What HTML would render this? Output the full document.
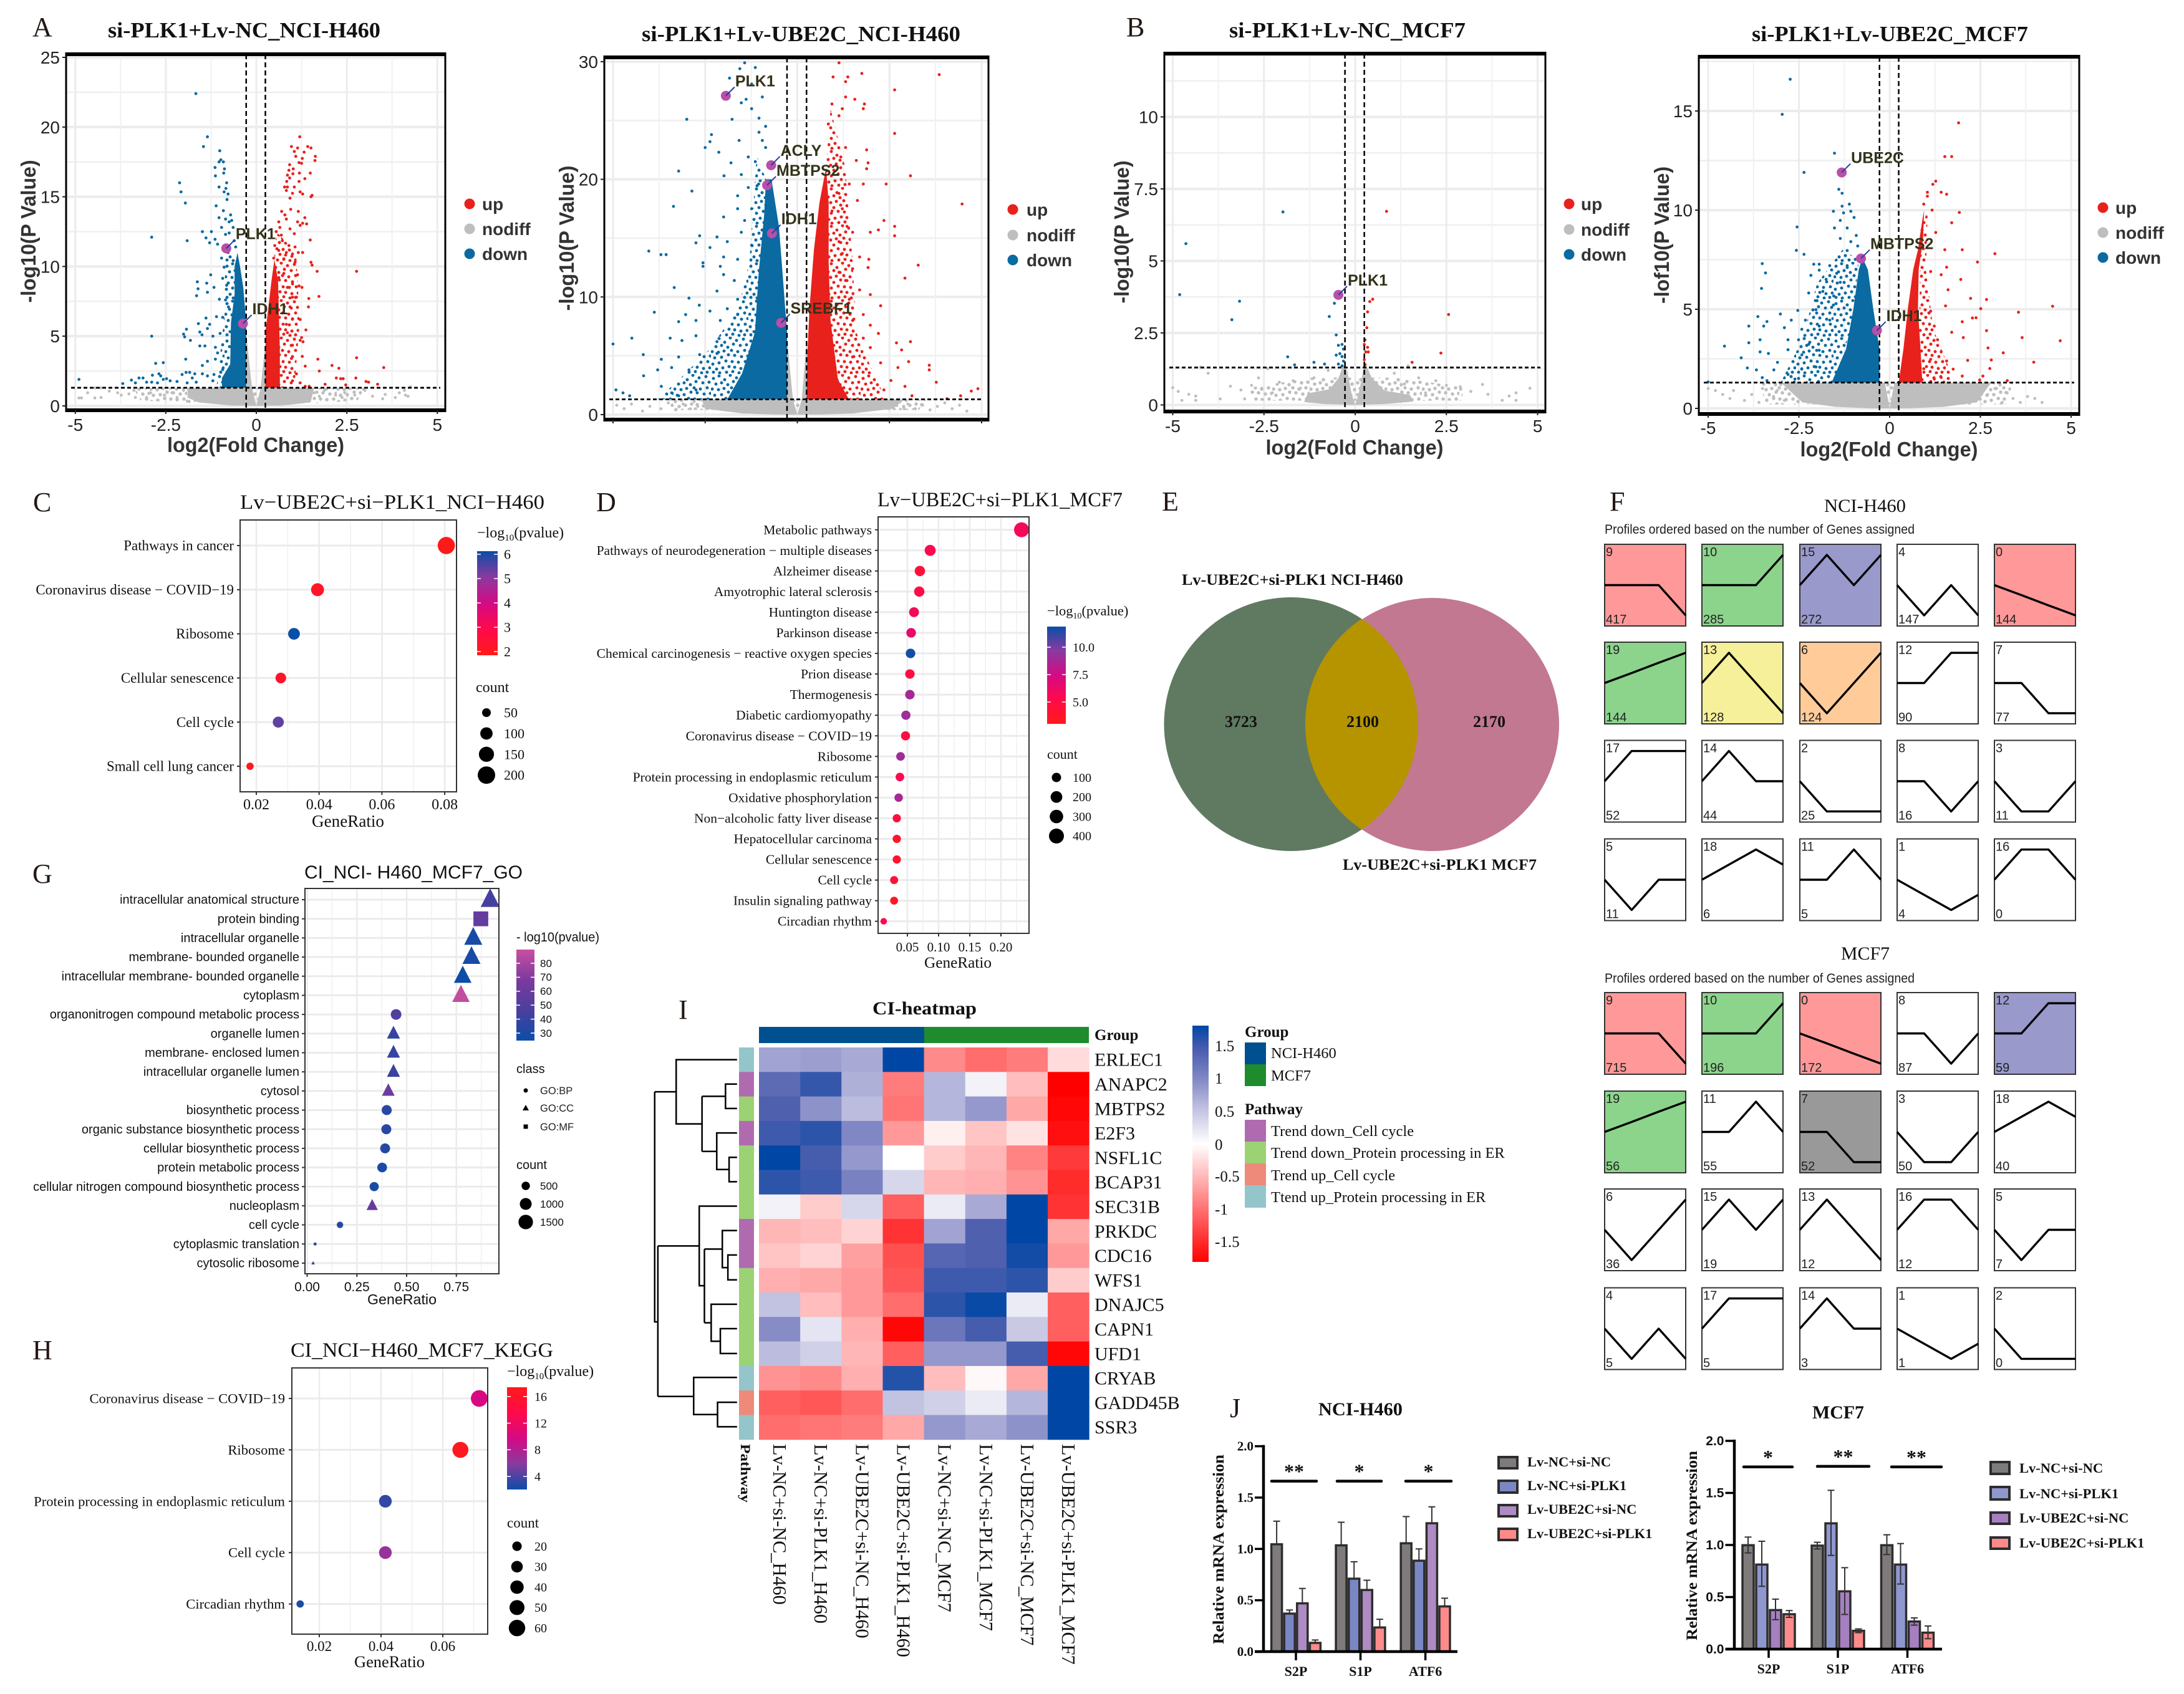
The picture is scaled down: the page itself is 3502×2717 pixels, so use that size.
<!DOCTYPE html>
<html lang="en">
<head>
<meta charset="utf-8">
<title>Multi-panel transcriptomics figure</title>
<style>
html,body{margin:0;padding:0;background:#fff}
svg{display:block}
.se{font-family:"Liberation Serif",serif}
.sa{font-family:"Liberation Sans",sans-serif}
.b{font-weight:bold}
.m{text-anchor:middle}
.e{text-anchor:end}
</style>
</head>
<body>
<svg id="fig" xmlns="http://www.w3.org/2000/svg" width="3502" height="2717" viewBox="0 0 3502 2717">
<defs>
<pattern id="sp-down" width="60" height="60" patternUnits="userSpaceOnUse"><path d="M4 7h0M13 3h0M22 9h0M31 2h0M41 6h0M52 4h0M57 13h0M47 14h0M36 12h0M27 17h0M17 14h0M8 16h0M2 24h0M12 25h0M21 23h0M33 22h0M43 24h0M54 22h0M59 31h0M49 32h0M38 30h0M28 29h0M17 33h0M6 34h0M3 44h0M13 42h0M24 39h0M34 40h0M44 41h0M55 40h0M58 50h0M48 51h0M38 49h0M29 48h0M19 50h0M9 52h0M14 58h0M25 57h0M35 56h0M45 58h0M54 57h0M4 57h0" stroke="#0a6aa1" stroke-width="5" stroke-linecap="round"/></pattern>
<pattern id="sp-up" width="60" height="60" patternUnits="userSpaceOnUse"><path d="M4 7h0M13 3h0M22 9h0M31 2h0M41 6h0M52 4h0M57 13h0M47 14h0M36 12h0M27 17h0M17 14h0M8 16h0M2 24h0M12 25h0M21 23h0M33 22h0M43 24h0M54 22h0M59 31h0M49 32h0M38 30h0M28 29h0M17 33h0M6 34h0M3 44h0M13 42h0M24 39h0M34 40h0M44 41h0M55 40h0M58 50h0M48 51h0M38 49h0M29 48h0M19 50h0M9 52h0M14 58h0M25 57h0M35 56h0M45 58h0M54 57h0M4 57h0" stroke="#e8211d" stroke-width="5" stroke-linecap="round"/></pattern>
<pattern id="sp-gray" width="60" height="60" patternUnits="userSpaceOnUse"><path d="M4 7h0M13 3h0M22 9h0M31 2h0M41 6h0M52 4h0M57 13h0M47 14h0M36 12h0M27 17h0M17 14h0M8 16h0M2 24h0M12 25h0M21 23h0M33 22h0M43 24h0M54 22h0M59 31h0M49 32h0M38 30h0M28 29h0M17 33h0M6 34h0M3 44h0M13 42h0M24 39h0M34 40h0M44 41h0M55 40h0M58 50h0M48 51h0M38 49h0M29 48h0M19 50h0M9 52h0M14 58h0M25 57h0M35 56h0M45 58h0M54 57h0M4 57h0" stroke="#bebebe" stroke-width="5.5" stroke-linecap="round"/></pattern>
<linearGradient id="grad-rb" x1="0" y1="1" x2="0" y2="0"><stop offset="0" stop-color="#ff1a1a"/><stop offset=".25" stop-color="#ff0a4a"/><stop offset=".5" stop-color="#d40a85"/><stop offset=".75" stop-color="#8a3a9e"/><stop offset="1" stop-color="#0a4ea8"/></linearGradient>
<linearGradient id="grad-br" x1="0" y1="0" x2="0" y2="1"><stop offset="0" stop-color="#ff1a1a"/><stop offset=".25" stop-color="#ff0a4a"/><stop offset=".5" stop-color="#d40a85"/><stop offset=".75" stop-color="#8a3a9e"/><stop offset="1" stop-color="#0a4ea8"/></linearGradient>
<linearGradient id="grad-go" x1="0" y1="1" x2="0" y2="0"><stop offset="0" stop-color="#0a4ea8"/><stop offset=".33" stop-color="#4a3f9e"/><stop offset=".66" stop-color="#7a3a9e"/><stop offset="1" stop-color="#c94fa0"/></linearGradient>
<linearGradient id="grad-heat" x1="0" y1="0" x2="0" y2="1"><stop offset="0" stop-color="#0047a5"/><stop offset=".1" stop-color="#4a5cae"/><stop offset=".225" stop-color="#8088c4"/><stop offset=".35" stop-color="#c0c0e0"/><stop offset=".5" stop-color="#ffffff"/><stop offset="1" stop-color="#ff0000"/></linearGradient>
</defs>

<!-- panel letters -->
<g class="se" font-size="44" fill="#231815">
<text x="52" y="58">A</text>
<text x="1806" y="58">B</text>
<text x="53" y="820">C</text>
<text x="956" y="820">D</text>
<text x="1863" y="819">E</text>
<text x="2581" y="819">F</text>
<text x="52" y="1416">G</text>
<text x="52" y="2180">H</text>
<text x="1088" y="1634">I</text>
<text x="1972" y="2273">J</text>
</g>

<!-- volcano static text -->
<g class="se b" font-size="35" fill="#111">
<text x="173" y="60" textLength="437" lengthAdjust="spacingAndGlyphs">si-PLK1+Lv-NC_NCI-H460</text>
<text x="1029" y="66" textLength="511" lengthAdjust="spacingAndGlyphs">si-PLK1+Lv-UBE2C_NCI-H460</text>
<text x="1971" y="60" textLength="379" lengthAdjust="spacingAndGlyphs">si-PLK1+Lv-NC_MCF7</text>
<text x="2809" y="66" textLength="443" lengthAdjust="spacingAndGlyphs">si-PLK1+Lv-UBE2C_MCF7</text>
</g>
<g class="sa b m" font-size="33" fill="#333">
<text transform="rotate(-90 57 371)" x="57" y="371" textLength="229" lengthAdjust="spacingAndGlyphs">-log10(P Value)</text>
<text transform="rotate(-90 920 382)" x="920" y="382" textLength="233" lengthAdjust="spacingAndGlyphs">-log10(P Value)</text>
<text transform="rotate(-90 1810 372)" x="1810" y="372" textLength="229" lengthAdjust="spacingAndGlyphs">-log10(P Value)</text>
<text transform="rotate(-90 2676 377)" x="2676" y="377" textLength="220" lengthAdjust="spacingAndGlyphs">-lof10(P Value)</text>
<text x="410" y="725" textLength="284" lengthAdjust="spacingAndGlyphs">log2(Fold Change)</text>
<text x="2172" y="729" textLength="285" lengthAdjust="spacingAndGlyphs">log2(Fold Change)</text>
<text x="3029" y="732" textLength="285" lengthAdjust="spacingAndGlyphs">log2(Fold Change)</text>
</g>
<g>
<g class="sa b" font-size="28" fill="#333">
<circle cx="753" cy="327" r="8.5" fill="#e8211d"/><text x="773" y="337">up</text>
<circle cx="753" cy="367" r="8.5" fill="#bebebe"/><text x="773" y="377">nodiff</text>
<circle cx="753" cy="407" r="8.5" fill="#0a6aa1"/><text x="773" y="417">down</text>
<circle cx="1624" cy="336" r="8.5" fill="#e8211d"/><text x="1646" y="346">up</text>
<circle cx="1624" cy="377" r="8.5" fill="#bebebe"/><text x="1646" y="387">nodiff</text>
<circle cx="1624" cy="417" r="8.5" fill="#0a6aa1"/><text x="1646" y="427">down</text>
<circle cx="2516" cy="327" r="8.5" fill="#e8211d"/><text x="2535" y="337">up</text>
<circle cx="2516" cy="368" r="8.5" fill="#bebebe"/><text x="2535" y="378">nodiff</text>
<circle cx="2516" cy="408" r="8.5" fill="#0a6aa1"/><text x="2535" y="418">down</text>
<circle cx="3372" cy="333" r="8.5" fill="#e8211d"/><text x="3392" y="343">up</text>
<circle cx="3372" cy="373" r="8.5" fill="#bebebe"/><text x="3392" y="383">nodiff</text>
<circle cx="3372" cy="413" r="8.5" fill="#0a6aa1"/><text x="3392" y="423">down</text>
</g></g>

<g id="v-a1"></g>
<g id="v-a2"></g>
<g id="v-b1"></g>
<g id="v-b2"></g>

<!-- panel C static -->
<text class="se" x="385" y="816" font-size="33" textLength="488" lengthAdjust="spacingAndGlyphs" fill="#111">Lv−UBE2C+si−PLK1_NCI−H460</text>
<text class="se" x="500" y="1326" font-size="27" textLength="116" lengthAdjust="spacingAndGlyphs" fill="#111">GeneRatio</text>
<text class="se" x="765" y="862" font-size="24" fill="#111">−log<tspan font-size="15" dy="5">10</tspan><tspan dy="-5">(pvalue)</tspan></text>
<text class="se" x="763" y="1110" font-size="24" fill="#111">count</text>
<rect x="765" y="884" width="33" height="167" fill="url(#grad-rb)"/>
<g id="dp-c"></g>

<!-- panel D static -->
<text class="se" x="1407" y="812" font-size="33" textLength="393" lengthAdjust="spacingAndGlyphs" fill="#111">Lv−UBE2C+si−PLK1_MCF7</text>
<text class="se" x="1482" y="1552" font-size="25" textLength="108" lengthAdjust="spacingAndGlyphs" fill="#111">GeneRatio</text>
<text class="se" x="1679" y="987" font-size="22.5" fill="#111">−log<tspan font-size="14" dy="5">10</tspan><tspan dy="-5">(pvalue)</tspan></text>
<text class="se" x="1679" y="1217" font-size="22" fill="#111">count</text>
<rect x="1679" y="1005" width="30" height="156" fill="url(#grad-rb)"/>
<g id="dp-d"></g>

<!-- panel E venn -->
<g>
<circle cx="2070" cy="1161.5" r="203.5" fill="#5f7a60"/>
<circle cx="2297" cy="1162" r="203" fill="#c27890"/>
<path d="M2183.5 992.5A203.5 203.5 0 0 1 2183.5 1330.5A203 203 0 0 1 2183.5 992.5Z" fill="#b59400"/>
<g class="se b m" font-size="26" fill="#111">
<text x="1990" y="1166">3723</text>
<text x="2185" y="1166">2100</text>
<text x="2388" y="1166">2170</text>
</g>
<text class="se b" x="1895" y="938" font-size="25" textLength="355" lengthAdjust="spacingAndGlyphs" fill="#111">Lv-UBE2C+si-PLK1 NCI-H460</text>
<text class="se b" x="2153" y="1395" font-size="25" textLength="311" lengthAdjust="spacingAndGlyphs" fill="#111">Lv-UBE2C+si-PLK1 MCF7</text>
</g>

<!-- panel F static -->
<text class="se" x="2925" y="821" font-size="30" textLength="131" lengthAdjust="spacingAndGlyphs" fill="#111">NCI-H460</text>
<text class="sa" x="2573" y="856" font-size="21" textLength="497" lengthAdjust="spacingAndGlyphs" fill="#222">Profiles ordered based on the number of Genes assigned</text>
<text class="se" x="2952" y="1539" font-size="30" textLength="78" lengthAdjust="spacingAndGlyphs" fill="#111">MCF7</text>
<text class="sa" x="2573" y="1576" font-size="21" textLength="497" lengthAdjust="spacingAndGlyphs" fill="#222">Profiles ordered based on the number of Genes assigned</text>
<g id="prof-h460"></g>
<g id="prof-mcf7"></g>

<!-- panel G static -->
<text class="sa" x="488" y="1409" font-size="30" textLength="350" lengthAdjust="spacingAndGlyphs" fill="#111">CI_NCI- H460_MCF7_GO</text>
<text class="sa" x="589" y="2092" font-size="23" textLength="111" lengthAdjust="spacingAndGlyphs" fill="#111">GeneRatio</text>
<text class="sa" x="828" y="1510" font-size="21" textLength="133" lengthAdjust="spacingAndGlyphs" fill="#111">- log10(pvalue)</text>
<rect x="828" y="1523" width="29" height="146" fill="url(#grad-go)"/>
<text class="sa" x="828" y="1721" font-size="20" fill="#111">class</text>
<circle cx="843" cy="1749" r="3.5" fill="#000"/>
<path d="M843 1772l5 9h-10z" fill="#000"/>
<rect x="839.5" y="1803.5" width="7" height="7" fill="#000"/>
<g class="sa" font-size="16.5" fill="#222">
<text x="866" y="1755">GO:BP</text>
<text x="866" y="1783">GO:CC</text>
<text x="866" y="1813">GO:MF</text>
</g>
<text class="sa" x="828" y="1875" font-size="20" fill="#111">count</text>
<g id="dp-g"></g>

<!-- panel H static -->
<text class="se" x="466" y="2176" font-size="33" textLength="421" lengthAdjust="spacingAndGlyphs" fill="#111">CI_NCI−H460_MCF7_KEGG</text>
<text class="se" x="568" y="2674" font-size="26" textLength="113" lengthAdjust="spacingAndGlyphs" fill="#111">GeneRatio</text>
<text class="se" x="813" y="2207" font-size="24" fill="#111">−log<tspan font-size="15" dy="5">10</tspan><tspan dy="-5">(pvalue)</tspan></text>
<rect x="813" y="2225" width="32" height="164" fill="url(#grad-br)"/>
<text class="se" x="813" y="2450" font-size="23" fill="#111">count</text>
<g id="dp-h"></g>

<!-- panel I static -->
<text class="se b" x="1399" y="1627" font-size="30" textLength="167" lengthAdjust="spacingAndGlyphs" fill="#111">CI-heatmap</text>
<text class="se b" x="1755" y="1668" font-size="25" fill="#111">Group</text>
<rect x="1217" y="1647" width="265" height="26" fill="#00508f"/>
<rect x="1482" y="1647" width="264" height="26" fill="#1e8c2c"/>
<text class="se b m" transform="rotate(90 1188 2363)" x="1188" y="2363" font-size="22" textLength="94" lengthAdjust="spacingAndGlyphs" fill="#111">Pathway</text>
<path transform="translate(1000 1580) scale(.638 .725)" fill="none" stroke="#000" stroke-width="2.5" vector-effect="non-scaling-stroke" d="M285 165H132V307H197M197 246V368M256 246H197M285 219H256V273H285M234 368H197M285 327H234V408H265M285 381H265V435H285M78 236H132M78 236V745H86M86 577V910M86 577H190M285 489H190V665H203M203 584V747M203 584H248M285 543H248V625H262M285 597H262V652H285M203 747H220M285 706H220V788H243M285 760H243V815H285M86 910H176M285 868H176V950H236M285 923H236V977H285"/>
<rect x="1912" y="1645" width="26" height="379" fill="url(#grad-heat)"/>
<g class="se" font-size="25" fill="#111">
<text x="1948" y="1686">1.5</text>
<text x="1948" y="1738">1</text>
<text x="1948" y="1791">0.5</text>
<text x="1948" y="1844">0</text>
<text x="1948" y="1895">-0.5</text>
<text x="1948" y="1948">-1</text>
<text x="1948" y="2000">-1.5</text>
</g>
<g>
<text class="se b" x="1996" y="1663" font-size="25" fill="#111">Group</text>
<rect x="1996" y="1672" width="34" height="35" fill="#00508f"/>
<rect x="1996" y="1707" width="34" height="35" fill="#1e8c2c"/>
<text class="se b" x="1996" y="1787" font-size="25" fill="#111">Pathway</text>
<rect x="1996" y="1796" width="34" height="35" fill="#b06bb0"/>
<rect x="1996" y="1831" width="34" height="35" fill="#9bd274"/>
<rect x="1996" y="1866" width="34" height="35" fill="#ee8a7a"/>
<rect x="1996" y="1901" width="34" height="36" fill="#93c5cb"/>
<g class="se" font-size="24.5" fill="#111">
<text x="2038" y="1697">NCI-H460</text>
<text x="2038" y="1733">MCF7</text>
<text x="2038" y="1822">Trend down_Cell cycle</text>
<text x="2038" y="1857">Trend down_Protein processing in ER</text>
<text x="2038" y="1893">Trend up_Cell cycle</text>
<text x="2038" y="1928">Ttend up_Protein processing in ER</text>
</g></g>
<g id="heat"></g>

<!-- panel J static -->
<text class="se b" x="2114" y="2270" font-size="30" textLength="135" lengthAdjust="spacingAndGlyphs" fill="#111">NCI-H460</text>
<text class="se b" x="2906" y="2275" font-size="30" textLength="83" lengthAdjust="spacingAndGlyphs" fill="#111">MCF7</text>
<text class="se b m" transform="rotate(-90 1962 2485)" x="1962" y="2485" font-size="25" textLength="304" lengthAdjust="spacingAndGlyphs" fill="#111">Relative mRNA expression</text>
<text class="se b m" transform="rotate(-90 2721 2479)" x="2721" y="2479" font-size="25" textLength="304" lengthAdjust="spacingAndGlyphs" fill="#111">Relative mRNA expression</text>
<g>
<g stroke="#2d2d2d" stroke-width="4">
<rect x="2403" y="2337" width="30" height="18" fill="#7f7b7b"/>
<rect x="2403" y="2375" width="30" height="19" fill="#7b86c4"/>
<rect x="2403" y="2414" width="30" height="18" fill="#ae8bc2"/>
<rect x="2403" y="2452" width="30" height="18" fill="#ff8a8a"/>
</g>
<g class="se b" font-size="22.5" fill="#111">
<text x="2449" y="2352">Lv-NC+si-NC</text>
<text x="2449" y="2390">Lv-NC+si-PLK1</text>
<text x="2449" y="2428">Lv-UBE2C+si-NC</text>
<text x="2449" y="2467">Lv-UBE2C+si-PLK1</text>
</g></g>
<g>
<g stroke="#2d2d2d" stroke-width="4">
<rect x="3192" y="2345" width="30" height="19" fill="#7f7b7b"/>
<rect x="3192" y="2385" width="30" height="20" fill="#8f97cf"/>
<rect x="3192" y="2426" width="30" height="18" fill="#a67fc0"/>
<rect x="3192" y="2466" width="30" height="18" fill="#ff8a8a"/>
</g>
<g class="se b" font-size="22.5" fill="#111">
<text x="3238" y="2362">Lv-NC+si-NC</text>
<text x="3238" y="2403">Lv-NC+si-PLK1</text>
<text x="3238" y="2442">Lv-UBE2C+si-NC</text>
<text x="3238" y="2482">Lv-UBE2C+si-PLK1</text>
</g></g>
<g id="bar-h460"></g>
<g id="bar-mcf7"></g>
</svg>

<script>
const NS='http://www.w3.org/2000/svg';
function mk(parent,tag,attrs,name){
  const el=document.createElementNS(NS,tag);
  for(const k in attrs)el.setAttribute(k,attrs[k]);
  
  
  parent.appendChild(el);
  return el;
}
function txt(parent,x,y,str,cls,size,fill,name,transform){
  const el=document.createElementNS(NS,'text');
  el.setAttribute('x',x);el.setAttribute('y',y);
  el.setAttribute('class',cls);el.setAttribute('font-size',size);el.setAttribute('fill',fill);
  if(transform)el.setAttribute('transform',transform);
  el.textContent=str;
  
  
  parent.appendChild(el);
  return el;
}
function hex(c){return [parseInt(c.slice(1,3),16),parseInt(c.slice(3,5),16),parseInt(c.slice(5,7),16)];}
function ramp(stops,t){
  t=Math.max(0,Math.min(1,t));
  const p=t*(stops.length-1),i=Math.min(Math.floor(p),stops.length-2),f=p-i,a=hex(stops[i]),b=hex(stops[i+1]);
  return 'rgb('+a.map((v,j)=>Math.round(v+(b[j]-v)*f)).join(',')+')';
}
const HOTCOLD=['#ff1a1a','#ff0a4a','#d40a85','#8a3a9e','#0a4ea8'];
function volcano(id,frame,sx,sy,d){
  const g=document.getElementById(id),X=v=>sx.x0+v*sx.k,Y=v=>sy.y0-v*sy.k;
  const L=frame[0],T=frame[1],R=frame[2],B=frame[3];
  mk(g,'rect',{x:L,y:T,width:R-L,height:B-T,fill:'#fff'},'plot-background');
  const st=d.yTicks[1]-d.yTicks[0];
  for(let v=st/2;Y(v)>T+2;v+=st)mk(g,'line',{x1:L,x2:R,y1:Y(v),y2:Y(v),stroke:'#efefef','stroke-width':2.5},'minor-gridline');
  d.yTicks.forEach(v=>mk(g,'line',{x1:L,x2:R,y1:Y(v),y2:Y(v),stroke:'#ececec','stroke-width':4},'major-gridline'));
  d.xTicks.forEach((v,i)=>{
    if(i<d.xTicks.length-1){const m=X((v+d.xTicks[i+1])/2);mk(g,'line',{x1:m,x2:m,y1:T,y2:B,stroke:'#f1f1f1','stroke-width':2},'minor-gridline');}
    mk(g,'line',{x1:X(v),x2:X(v),y1:T,y2:B,stroke:'#ececec','stroke-width':3},'major-gridline');
  });
  const poly=(pts,fill,name)=>{if(pts.length)mk(g,'polygon',{points:pts.map(p=>X(p[0])+','+Y(p[1])).join(' '),fill:fill},name);};
  const dots=(pts,fill,name)=>pts.forEach(p=>mk(g,'circle',{cx:X(p[0]),cy:Y(p[1]),r:2.4,fill:fill},name));
  poly(d.grayCloud,'url(#sp-gray)','nodiff-point-cloud');
  poly(d.downCloud,'url(#sp-down)','down-point-cloud');
  poly(d.upCloud,'url(#sp-up)','up-point-cloud');
  poly(d.grayCore,'#bebebe','nodiff-point-mass');
  dots(d.gray,'#bebebe','nodiff-point');
  poly(d.downCore,'#0a6aa1','down-point-mass');
  poly(d.upCore,'#e8211d','up-point-mass');
  dots(d.down,'#0a6aa1','down-point');
  dots(d.up,'#e8211d','up-point');
  d.cuts.forEach(v=>mk(g,'line',{x1:X(v),x2:X(v),y1:T,y2:B,stroke:'#000','stroke-width':2.5,'stroke-dasharray':'8 5'},'fold-change-threshold'));
  mk(g,'line',{x1:L+8,x2:R-8,y1:Y(d.pCut),y2:Y(d.pCut),stroke:'#000','stroke-width':2.8,'stroke-dasharray':'6 4'},'p-value-threshold');
  mk(g,'rect',{x:L,y:T,width:R-L,height:B-T,fill:'none',stroke:'#000','stroke-width':3},'plot-frame');
  mk(g,'line',{x1:L-1.5,x2:R+1.5,y1:T,y2:T,stroke:'#000','stroke-width':6},'plot-frame-top');
  mk(g,'line',{x1:L-1.5,x2:R+1.5,y1:B,y2:B,stroke:'#000','stroke-width':6},'plot-frame-bottom');
  d.xTicks.forEach((v,i)=>{
    mk(g,'line',{x1:X(v),x2:X(v),y1:B,y2:B+6,stroke:'#222','stroke-width':2},'x-tick');
    if(d.showX)txt(g,X(v),d.xLabelY,d.xTickLabels[i],'sa m',28,'#222','x-tick-label');
  });
  d.yTicks.forEach((v,i)=>{
    mk(g,'line',{x1:L-6,x2:L,y1:Y(v),y2:Y(v),stroke:'#222','stroke-width':2},'y-tick');
    txt(g,L-10,Y(v)+10,d.yTickLabels[i],'sa e',28,'#222','y-tick-label');
  });
  d.genes.forEach((n,i)=>{
    const px=X(d.geneX[i]),py=Y(d.geneY[i]);
    mk(g,'circle',{cx:px,cy:py,r:8,fill:'#b84fa8'},'highlighted-gene-point');
    mk(g,'line',{x1:px,y1:py,x2:px+14,y2:py-14,stroke:'#1f3f9f','stroke-width':2},'gene-connector');
    txt(g,px+15,py-15,n,'sa b',25,'#33331a','gene-label');
  });
}
function dotPlot(id,o){
  const g=document.getElementById(id);
  const L=o.frame[0],T=o.frame[1],R=o.frame[2],B=o.frame[3];
  mk(g,'rect',{x:L,y:T,width:R-L,height:B-T,fill:'#fff'},'plot-background');
  o.ticks.forEach((v,i)=>{
    if(i<o.ticks.length-1||o.x(v+(o.ticks[1]-o.ticks[0])/2)<R){
      const m=o.x(v+(o.ticks[1]-o.ticks[0])/2);
      if(m<R)mk(g,'line',{x1:m,x2:m,y1:T,y2:B,stroke:'#f0f0f0','stroke-width':1.5},'minor-gridline');
    }
    mk(g,'line',{x1:o.x(v),x2:o.x(v),y1:T,y2:B,stroke:'#ebebeb','stroke-width':2.5},'major-gridline');
  });
  o.cats.forEach((c,i)=>{
    const y=o.y0+i*o.dy;
    mk(g,'line',{x1:L,x2:R,y1:y,y2:y,stroke:'#ebebeb','stroke-width':3},'category-gridline');
    mk(g,'line',{x1:L-5,x2:L,y1:y,y2:y,stroke:'#333','stroke-width':2},'y-tick');
    txt(g,o.labelX,y+o.labelSize*.33,c,o.font+' e',o.labelSize,'#111','category-label');
  });
  o.ticks.forEach((v,i)=>{
    mk(g,'line',{x1:o.x(v),x2:o.x(v),y1:B,y2:B+5,stroke:'#333','stroke-width':2},'x-tick');
    txt(g,o.x(v),o.tickY,o.tickLabels[i],o.font+' m',o.tickSize,'#111','x-tick-label');
  });
  o.cats.forEach((c,i)=>{
    const x=o.x(o.ratios[i]),y=o.y0+i*o.dy,r=o.r(o.counts[i]),col=o.color(o.pvals[i]),s=o.shapes?o.shapes[i]:'BP';
    if(s==='CC')mk(g,'polygon',{points:[x,y-1.5*r,x+1.25*r,y+.95*r,x-1.25*r,y+.95*r].join(' '),fill:col},'enrichment-mark');
    else if(s==='MF')mk(g,'rect',{x:x-r,y:y-r,width:2*r,height:2*r,fill:col},'enrichment-mark');
    else mk(g,'circle',{cx:x,cy:y,r:r,fill:col},'enrichment-mark');
  });
  mk(g,'rect',{x:L,y:T,width:R-L,height:B-T,fill:'none',stroke:'#333','stroke-width':2},'plot-frame');
  o.cbLabels.forEach((t,i)=>{
    const y=o.cbY(o.cbTicks[i]);
    mk(g,'line',{x1:o.cb[0],x2:o.cb[0]+6,y1:y,y2:y,stroke:'#fff','stroke-width':1.5},'colorbar-tick');
    mk(g,'line',{x1:o.cb[1]-6,x2:o.cb[1],y1:y,y2:y,stroke:'#fff','stroke-width':1.5},'colorbar-tick');
    txt(g,o.cbTextX,y+o.cbSize*.34,t,o.font,o.cbSize,'#111','colorbar-tick-label');
  });
  o.legCounts.forEach((c,i)=>{
    mk(g,'circle',{cx:o.legX,cy:o.legY0+i*o.legDy,r:o.r(c),fill:'#000'},'size-legend-dot');
    txt(g,o.cbTextX,o.legY0+i*o.legDy+o.cbSize*.34,o.legLabels[i],o.font,o.cbSize,'#111','size-legend-label');
  });
}
function profiles(id,cols,rows,w,h,ids,counts,trends,fills){
  const g=document.getElementById(id);
  ids.forEach((n,i)=>{
    const L=cols[i%5],T=rows[Math.floor(i/5)];
    mk(g,'rect',{x:L,y:T,width:w,height:h,fill:fills[i],stroke:'#333','stroke-width':2},'profile-cell');
    const pts=trends[i].map((v,j)=>(L+w*j/3)+','+(T+h*(.5-v*.37))).join(' ');
    mk(g,'polyline',{points:pts,fill:'none',stroke:'#000','stroke-width':3.4,'stroke-linejoin':'round'},'profile-line');
    txt(g,L+2,T+19,n,'sa',20,'#222','profile-id');
    txt(g,L+2,T+h-4,counts[i],'sa',20,'#222','profile-gene-count');
  });
}
function barChart(id,o){
  const g=document.getElementById(id),Y=v=>o.y0-v*o.k;
  o.yTicks.forEach((v,i)=>{
    mk(g,'line',{x1:o.tickL,x2:o.axisX,y1:Y(v),y2:Y(v),stroke:'#000','stroke-width':3.5},'y-tick');
    txt(g,o.tickL-2,Y(v)+7,o.yTickLabels[i],o.tickCls,21,'#111','y-tick-label');
  });
  mk(g,'line',{x1:o.axisX,x2:o.axisX,y1:Y(2)-2,y2:o.y0,stroke:'#000','stroke-width':4.5},'y-axis');
  o.genes.forEach((n,gi)=>{
    const c=o.groupX[gi];
    o.series.forEach((s,si)=>{
      const x=c+(si-1.5)*o.step,v=s[gi],top=o.errTop[si][gi];
      const low=o.errLow?o.errLow[si][gi]:null;
      if(low===null)mk(g,'line',{x1:x,x2:x,y1:Y(v),y2:Y(top),stroke:'#333','stroke-width':2},'error-bar');
      mk(g,'rect',{x:x-o.barW/2,y:Y(v),width:o.barW,height:o.y0-Y(v),fill:o.colors[si],stroke:'#2d2d2d','stroke-width':3.5},'bar');
      if(low!==null)mk(g,'line',{x1:x,x2:x,y1:Y(low),y2:Y(top),stroke:'#333','stroke-width':2},'error-bar');
      mk(g,'line',{x1:x-5.5,x2:x+5.5,y1:Y(top),y2:Y(top),stroke:'#333','stroke-width':2},'error-cap');
      if(low!==null)mk(g,'line',{x1:x-5.5,x2:x+5.5,y1:Y(low),y2:Y(low),stroke:'#333','stroke-width':2},'error-cap');
    });
    mk(g,'line',{x1:c,x2:c,y1:o.y0,y2:o.y0+14,stroke:'#000','stroke-width':3.5},'x-tick');
    txt(g,c,o.y0+39,n,'se b m',22,'#111','x-tick-label');
    mk(g,'line',{x1:o.sigL[gi],x2:o.sigR[gi],y1:Y(o.sigV[gi]),y2:Y(o.sigV[gi]),stroke:'#000','stroke-width':4.5,'stroke-linecap':'round'},'significance-bar');
    txt(g,(o.sigL[gi]+o.sigR[gi])/2,Y(o.sigV[gi])-5,o.stars[gi],'se b m',32,'#111','significance-stars');
  });
  mk(g,'line',{x1:o.tickL,x2:o.axisEnd,y1:o.y0,y2:o.y0,stroke:'#000','stroke-width':4.5},'x-axis');
}
</script>

<script>
const a1Up=[[1.2,19.3],[.97,18.6],[1.14,18.5],[1.42,18.6],[1.51,18.5],[1.32,18.2],[1.63,17.9],[1.62,17.6],[1.05,18.25],[1.09,17.9],[1.27,17.75],[1.18,17.45],[1.25,17.4],[.92,17.3],[1.02,17],[.9,16.9],[1.49,16.7],[1.01,16.65],[1.19,16.7],[.86,16.55],[.92,16.35],[1.34,16.3],[.84,16.1],[1.18,16.1],[.78,15.7],[.86,15.7],[1.05,15.7],[.83,15.45],[1.21,15.35],[1,15.25],[1.28,15.2],[1.54,15.1],[.93,14.9],[1.51,15],[.95,14.1],[1.16,13.95],[.7,13.95],[1.34,13.5],[.79,13.7],[.83,13.4],[1.14,13.2],[.62,13.2],[1.28,13.1],[1.39,13.05],[1.21,12.95],[.65,12.8],[.93,12.7],[.55,12.5],[1.05,12.35],[.69,12.25],[1.49,11.9],[.72,11.85],[.51,11.5],[.9,11.5],[1.07,11.4],[.62,11.15],[1.28,11],[.83,11],[1,10.9],[1.16,11],[.48,10.6],[.76,10.55],[1.07,10.3],[1.51,10.3],[1.54,10.1],[2.77,9.65],[1.68,9.65],[1.14,9.4],[.76,9.5],[.62,9.2],[1,8.75],[1.18,8.6],[1.26,8.5],[.86,8.5],[1.73,7.85],[1.45,7.7],[1.11,7.8],[1,7.8],[1.44,7.1],[.93,7.1],[1.21,6.2],[1,6.25],[.83,5.85],[1.37,5.45],[.86,5.25],[1.25,4.9],[1.21,4.7],[1.29,4.6],[1,4.35],[1.7,3.35],[1.27,3.55],[2.77,3.45],[.97,3.4],[1.35,2.85],[1.74,2.5],[2.09,2.9],[2.28,2.7],[3.52,2.75],[2.21,2],[2.33,1.95],[2.4,1.95],[2.75,2],[3.03,1.75],[3.1,1.7],[3.35,1.55],[2.47,1.5],[1.9,1.55],[1.35,1.4],[1.46,1.4],[1.11,2.3],[1.21,1.65],[1,1.8]];
const a1Down=[[-1.67,22.4],[-1.35,19.3],[-1.46,18.6],[-1.01,18.3],[-.98,17.65],[-1.03,17.5],[-.91,17.5],[-1.14,17.1],[-.88,17],[-.9,16.7],[-1.13,16.5],[-2.12,16],[-.82,16],[-1.03,15.7],[-.84,15.6],[-2.08,15.35],[-.89,15.35],[-.78,15.2],[-.81,14.8],[-1.96,14.55],[-1.11,14.35],[-.91,14],[-.71,13.7],[-1.03,13.5],[-.85,13.4],[-.68,13.3],[-.75,13.2],[-.96,12.8],[-1.49,12.5],[-1.24,12.5],[-2.89,12.1],[-1.91,11.85],[-1.39,12.05],[-1.14,11.95],[-1.29,11.7],[-1.07,11.6],[-.85,12.3],[-.75,12.4],[-.64,12.8],[-.57,11.4],[-.61,11.85],[-.78,11],[-.96,10.6],[-.89,9.95],[-1.26,9.4],[-1.63,8.9],[-1.37,8.8],[-1.61,8.4],[-1.17,8.5],[-1.35,8.15],[-1.65,7.9],[-.93,9.15],[-.82,8.65],[-1.02,7.65],[-.85,7.6],[-.77,7.1],[-1.1,6.4],[-.93,6.35],[-1.39,6.3],[-1.6,5.9],[-1.29,5.85],[-2.89,5],[-1.93,5.5],[-2.01,5.15],[-1.98,4.95],[-1.56,5.3],[-1.5,5.1],[-1.35,5.55],[-1,5.2],[-1.2,5],[-1.82,4.7],[-1.95,3.35],[-1.56,4.3],[-1.42,4.3],[-2.78,3.05],[-2.57,3.1],[-1.13,4.2],[-1.07,3.8],[-1.35,3.2],[-1.49,2.9],[-1.13,3.35],[-4.9,1.9],[-3.69,1.6],[-3.45,1.85],[-3.24,2],[-3.13,2],[-3.34,1.65],[-3.03,1.7],[-2.87,2.2],[-2.69,2.3],[-2.64,2.15],[-2.57,1.9],[-2.48,1.95],[-2.38,1.8],[-2.89,1.7],[-2.73,1.65],[-2.19,1.75],[-2.05,2.25],[-1.94,2.4],[-1.84,2.4],[-1.7,2.3],[-1.49,2.3],[-1.77,2],[-1.66,1.7],[-1.91,1.65],[-1.35,2.15],[-1.17,2.25],[-.93,2.6],[-1.2,1.8]];
const a1Gray=[[-4.9,.57],[-4.83,.57],[-4.46,1.29],[-4.29,1.29],[-4.46,.57],[-4.29,.6],[-4.66,.94],[-4.06,1.06],[-3.83,.94],[-3.73,.77],[-3.52,.86],[-3.38,1.11],[-3.34,.6],[-3.03,.6],[-2.92,.94],[-2.61,1.29],[-2.54,.77],[-2.33,.94],[-2.19,.6],[-2.01,1.11],[-1.91,.34],[4.26,1.37],[4.09,1.11],[4.12,.77],[3.84,.6],[3.95,.94],[3.56,.82],[3.21,.69],[3,1.11],[2.72,.77],[2.44,.94],[2.19,.77],[2.37,.6],[1.88,1.11],[1.74,.69],[1.6,.94],[4.19,.69],[3.49,.51]];
const a1DownCore=[[-.95,1.3],[-.28,1.3],[-.28,6],[-.36,8.5],[-.45,10],[-.52,11],[-.6,10],[-.6,8],[-.7,6],[-.72,3],[-.95,2]];
const a1UpCore=[[.25,1.3],[.65,1.3],[.65,4],[.62,7],[.6,9],[.5,10.5],[.42,9],[.33,7],[.26,5.5]];
const a1DownCloud=[[-1.1,1.3],[-.6,1.3],[-.5,6],[-.6,11],[-.85,11],[-.9,6]];
const a1UpCloud=[[.6,1.3],[1.05,1.3],[1.2,6],[1.1,11],[.55,12.5],[.45,9]];
const a1GrayCore=[[-1.9,1.3],[-.27,1.3],[-.27,5],[-.12,1.3],[0,0],[.12,1.3],[.27,5],[.27,1.3],[1.6,1.3],[1.5,.25],[.7,.02],[0,0],[-.7,.02],[-1.6,.25],[-1.9,.6]];
const a1GrayCloud=[[-3.4,1.3],[3,1.3],[2.8,.4],[1.8,.2],[-1.8,.2],[-3.2,.4]];
const a1Genes=['PLK1','IDH1'];
const a1GeneX=[-.83,-.37];
const a1GeneY=[11.3,5.9];
const a1XTicks=[-5,-2.5,0,2.5,5];
const a1XLabels=['-5','-2.5','0','2.5','5'];
const a1YTicks=[0,5,10,15,20,25];
const a1YLabels=['0','5','10','15','20','25'];
const a1Cuts=[-.28,.25];
const a1PCut=1.3;
volcano('v-a1',[106,87,714,658],{x0:411,k:58.05},{y0:651,k:22.36},{up:a1Up,down:a1Down,gray:a1Gray,downCore:a1DownCore,upCore:a1UpCore,downCloud:a1DownCloud,upCloud:a1UpCloud,grayCore:a1GrayCore,grayCloud:a1GrayCloud,genes:a1Genes,geneX:a1GeneX,geneY:a1GeneY,xTicks:a1XTicks,xTickLabels:a1XLabels,yTicks:a1YTicks,yTickLabels:a1YLabels,cuts:a1Cuts,pCut:a1PCut,showX:true,xLabelY:691});
</script>

<script>
const a2Up=[[1.13,29.9],[.97,28.7],[1.75,29],[3.85,28.9],[1.37,28.7],[1.31,28.3],[2.64,27.6],[1.31,27],[.94,26.4],[1.56,26.8],[1.82,26.4],[1.22,26],[1.79,26],[1.13,25.4],[.84,24.7],[2.64,23.9],[1.31,22.7],[1.88,22.5],[1.18,21.9],[1.6,21.6],[1.92,21.4],[1.88,20.9],[3.07,20.3],[1.41,19.6],[2.41,19.6],[1.13,18.8],[1.79,19.6],[1.63,18.2],[4.47,17.9],[1.22,17.5],[.94,17.3],[2.35,16.5],[2.64,16],[1.35,16],[2.2,15.7],[2.64,15.2],[1.98,15.5],[1.5,15.5],[1.13,14.7],[1.22,13.7],[1.69,13.4],[1.94,13.2],[1.92,12.5],[3.28,12.7],[1.5,12.4],[1.13,12.1],[2.92,11.6],[1.31,11.4],[1.69,10.6],[1.98,10.2],[1.41,9.8],[2.26,9.25],[1.79,8.5],[1.5,8],[1.98,7.6],[2.2,6.9],[1.79,6.5],[2.69,6.1],[3.07,6.2],[2.83,5.5],[1.98,5.7],[1.5,4.9],[2.26,4.4],[3.02,4.5],[3.58,4.2],[2.73,4],[3.77,2.75],[3.58,3.8],[2.54,2.9],[2.92,2.4],[4.9,2.2],[4.72,2],[4.43,1.6],[4.06,1.35],[3.11,1.6],[2.35,2.1]];
const a2Down=[[-1.43,29.9],[-1.14,29.5],[-1.56,29.4],[-1.84,28.6],[-1.62,28.2],[-1.24,28.1],[-.95,27],[-1.39,26.8],[-1.52,26.5],[-1.24,26],[-1.04,25.2],[-3,25.1],[-1.77,25.1],[-.86,24.5],[-1.04,24],[-2.33,23.8],[-1.58,23.3],[-2.37,23.2],[-2.5,22.7],[-.95,23.3],[-2.13,22.3],[-1.33,21.9],[-.86,22.7],[-1.8,21.4],[-1.14,21.5],[-3.22,20.7],[-1.99,20.3],[-1.52,20.4],[-2.86,19],[-1.62,18.6],[-1.33,19.3],[-1.05,19.6],[-3.36,17.7],[-1.62,17.5],[-1.24,17.5],[-2,16.8],[-1.43,16.5],[-2.65,15.2],[-2.18,15.1],[-1.9,14.7],[-2.75,14.6],[-1.52,15.5],[-1.24,14.4],[-2.37,14.2],[-4.03,13.9],[-3.7,13.6],[-3.56,13.6],[-2.56,12.9],[-2,13.4],[-1.62,13.2],[-2.09,12.6],[-2.56,12.6],[-3.34,10.8],[-2,11.9],[-1.71,11.4],[-2.94,9.9],[-2.18,10.5],[-1.62,9.8],[-2.66,9.3],[-3.88,8.7],[-3.03,8.5],[-2.37,8.8],[-1.9,9],[-1.62,8.5],[-3.22,7.9],[-2.75,8],[-2.09,8],[-4.49,6.5],[-3.45,6.5],[-3.13,6.3],[-2.75,6.7],[-2.18,6.2],[-5,6],[-4.18,5.1],[-3.69,4.7],[-3.22,4.9],[-2.65,5.1],[-2.18,5.2],[-4.17,3.3],[-3.79,3.8],[-3.41,4],[-2.94,3.8],[-4.92,2.1],[-4.73,1.85],[-4.55,1.6],[-3.69,2.4],[-3.41,1.85],[-3.22,1.6],[-2.75,2.1]];
const a2Gray=[[-4.9,.8],[-4.7,.5],[-4.5,.9],[-4.2,.3],[-4,.7],[-3.7,.5],[-3.5,1],[-3.3,.4],[-3.1,.9],[-2.9,.5],[-2.7,.7],[3,.9],[3.2,.5],[3.4,.8],[3.6,.4],[3.8,.7],[4,1],[4.2,.5],[4.4,.8],[4.6,.3],[2.9,.5],[-2.8,1.1]];
const a2DownCore=[[-1.9,1.3],[-.28,1.3],[-.28,7],[-.4,12],[-.5,16],[-.7,20],[-.85,20],[-.9,17],[-1.05,12],[-1.15,7],[-1.5,3.5]];
const a2UpCore=[[.25,1.3],[1.4,1.3],[1.1,3],[.9,8],[.85,13],[.85,18],[.78,21],[.6,18],[.45,14],[.33,9],[.27,5]];
const a2DownCloud=[[-3.8,1.3],[-1.3,1.3],[-1,6],[-.85,20],[-1.1,22],[-1.3,13],[-1.6,9],[-2.4,5.5],[-3.2,3]];
const a2UpCloud=[[.8,1.3],[2.4,1.3],[2,4],[1.6,7],[1.5,13],[1.3,21],[.9,26],[.75,20],[.9,8]];
const a2GrayCore=[[-2.6,1.3],[-.28,1.3],[-.28,6.5],[-.12,1.3],[0,0],[.12,1.3],[.26,6.5],[.26,1.3],[2.9,1.3],[2.6,.5],[1.5,.1],[.6,0],[0,0],[-.6,0],[-1.5,.1],[-2.5,.5]];
const a2GrayCloud=[[-3.6,1.3],[3.5,1.3],[3.3,.4],[-3.4,.4]];
const a2Genes=['PLK1','ACLY','MBTPS2','IDH1','SREBF1'];
const a2GeneX=[-1.94,-.71,-.82,-.69,-.44];
const a2GeneY=[27.1,21.2,19.5,15.4,7.8];
const a2XTicks=[-5,-2.5,0,2.5,5];
const a2YTicks=[0,10,20,30];
const a2YLabels=['0','10','20','30'];
const a2Cuts=[-.28,.25];
const a2PCut=1.3;
volcano('v-a2',[969,92,1585,673],{x0:1278.5,k:59.1},{y0:665,k:18.87},{up:a2Up,down:a2Down,gray:a2Gray,downCore:a2DownCore,upCore:a2UpCore,downCloud:a2DownCloud,upCloud:a2UpCloud,grayCore:a2GrayCore,grayCloud:a2GrayCloud,genes:a2Genes,geneX:a2GeneX,geneY:a2GeneY,xTicks:a2XTicks,xTickLabels:[],yTicks:a2YTicks,yTickLabels:a2YLabels,cuts:a2Cuts,pCut:a2PCut,showX:false,xLabelY:0});
</script>

<script>
const b1Up=[[.86,6.72],[.48,3.67],[.4,3.59],[.34,3.23],[2.56,3.14],[.32,2.68],[.27,2.26],[.25,2.1],[.34,2],[.29,1.84],[2.35,1.8],[1.56,1.48],[.25,1.57],[.27,1.4],[.36,1.84]];
const b1Down=[[-1.98,6.7],[-4.64,5.6],[-4.81,3.83],[-3.17,3.6],[-3.38,2.96],[-.57,3.53],[-.71,3.07],[-.52,2.43],[-.46,2.07],[-.36,2.1],[-.32,1.94],[-.42,1.78],[-.52,1.73],[-.36,1.68],[-1.85,1.67],[-1.66,1.39],[-1.13,1.48],[-.46,1.42],[-.36,1.36],[-.84,1.42],[-.32,1.52]];
const b1Gray=[[-5,.6],[-4.85,.47],[-4.56,.37],[-4.37,.31],[-4.75,.16],[-4.37,.16],[-3.7,.21],[-3.42,.65],[-3.13,.52],[-2.84,.68],[-2.56,.58],[-3.03,.21],[-4.03,1.1],[-4.24,1.31],[-2.4,1.26],[-2.27,.42],[-2.08,.79],[-1.7,.84],[-1.5,.58],[-1.13,.94],[-.74,1.2],[-2.65,.94],[4.79,.58],[4.41,.42],[4.22,.31],[3.49,.71],[3.17,.47],[2.88,.63],[2.5,.68],[1.93,.42],[1.74,.94],[1.07,1.1],[1.35,.73],[3.64,.37],[4.03,.16],[4.41,.16],[2.21,.84],[1.45,1.36]];
const b1DownCore=[];
const b1UpCore=[];
const b1DownCloud=[];
const b1UpCloud=[];
const b1GrayCore=[[-1.3,.4],[-.7,.55],[-.45,.95],[-.33,1.4],[-.22,1.2],[-.1,.4],[0,0],[.1,.4],[.22,1.2],[.28,1.45],[.45,.95],[.8,.5],[1.5,.35],[1.6,.12],[.8,.03],[0,0],[-.8,.03],[-1.4,.1]];
const b1GrayCloud=[[-2.9,.6],[-1.2,.95],[1.2,.95],[3,.6],[2.9,.15],[-2.8,.15]];
const b1Genes=['PLK1'];
const b1GeneX=[-.46];
const b1GeneY=[3.82];
const b1XTicks=[-5,-2.5,0,2.5,5];
const b1XLabels=['-5','-2.5','0','2.5','5'];
const b1YTicks=[0,2.5,5,7.5,10];
const b1YLabels=['0','2.5','5','7.5','10'];
const b1Cuts=[-.28,.25];
const b1PCut=1.3;
volcano('v-b1',[1867,86,2478,660],{x0:2173,k:58.5},{y0:649.5,k:46.2},{up:b1Up,down:b1Down,gray:b1Gray,downCore:b1DownCore,upCore:b1UpCore,downCloud:b1DownCloud,upCloud:b1UpCloud,grayCore:b1GrayCore,grayCloud:b1GrayCloud,genes:b1Genes,geneX:b1GeneX,geneY:b1GeneY,xTicks:b1XTicks,xTickLabels:b1XLabels,yTicks:b1YTicks,yTickLabels:b1YLabels,cuts:b1Cuts,pCut:b1PCut,showX:true,xLabelY:693});
</script>

<script>
const b2Up=[[1.9,14.4],[1.52,12.7],[1.71,12.7],[1.27,11.46],[1.19,11.3],[1.04,10.9],[1.42,10.9],[1.57,10.8],[1.04,10.7],[.94,10.3],[1.17,10],[1.92,9.88],[1.71,9.36],[1.27,8.87],[2,8],[2.9,7.8],[1.52,8],[2.42,7.38],[1.13,6.9],[1.57,7.12],[1.42,6.74],[1.96,6.5],[1.61,5.98],[2.23,5.55],[2.67,5.49],[4.49,5.15],[2.51,5.03],[3.55,4.85],[1.54,5.17],[1.13,4.9],[2.28,4.56],[2.38,4.57],[2,4.37],[1.23,4.15],[2.67,3.92],[1.71,3.84],[3.65,3.57],[4.7,3.41],[2.03,3.57],[1.32,3.46],[2.71,3.05],[3.13,2.8],[1.42,2.85],[2.15,2.42],[2.8,2.44],[3.97,2.33],[1.13,2.47],[1.75,1.98],[1.57,2.39],[2.76,2.01],[2.57,1.63],[2,1.63],[1.42,1.56],[3.24,1.4],[.94,2],[1.23,1.48],[2.48,1.43]];
const b2Down=[[-2.74,16.6],[-2.96,14.83],[-1.52,12.87],[-2.36,11.9],[-1.4,11.05],[-1.31,10.85],[-1.11,10.3],[-1.31,10.2],[-1.55,9.94],[-1.27,9.86],[-1.07,9.94],[-.98,9.63],[-1.36,9.48],[-2.55,9.15],[-1.52,9.1],[-1.17,9.1],[-.92,8.72],[-1.36,8.57],[-1.07,8.41],[-2.57,7.97],[-2.36,7.77],[-.88,8.19],[-1.17,7.96],[-3.51,7.3],[-3.42,6.83],[-2.09,7.27],[-1.94,7.27],[-2.17,6.71],[-1.94,6.97],[-1.65,7.2],[-1.46,6.81],[-1.17,7.2],[-1.75,6.51],[-1.36,6.36],[-3.53,6.05],[-2.23,5.82],[-1.84,5.9],[-1.54,5.67],[-2,5.43],[-1.55,5.21],[-2.53,4.94],[-2.03,4.98],[-3.01,4.76],[-3.63,4.63],[-3.38,4.38],[-3.88,4.15],[-3.47,4.15],[-2.71,4.45],[-2.32,4.45],[-2.42,3.99],[-2.9,4.07],[-1.94,4.15],[-1.65,4.45],[-3.88,3.31],[-3.57,3.46],[-4.55,3.14],[-2.8,3.46],[-2.51,3.46],[-2.23,3.23],[-3.57,2.85],[-3.34,2.77],[-2.8,2.96],[-4.09,2.55],[-3.09,2.32],[-2.42,2.7],[-1.94,2.93],[-3.92,2.04],[-3.67,1.94],[-3.19,1.94],[-2.8,1.71],[-3.51,1.55],[-2.42,2],[-2.03,2.09],[-5,1.33],[-3.38,1.4],[-2.61,1.48]];
const b2Gray=[[-5,1],[-4.8,.9],[-4.6,.7],[-4.4,.5],[-4.3,.9],[-4,.4],[-3.8,.7],[-3.6,.3],[-3.5,1],[-3.2,.6],[-3.1,.9],[-2.9,.4],[-2.7,1.1],[2.9,1],[3,.5],[3.2,.8],[3.4,.5],[3.6,.3],[3.8,.6],[4,.5],[4.2,.3],[2.7,.7],[3.1,.3],[-3,1.2]];
const b2DownCore=[[-1.6,1.3],[-.28,1.3],[-.28,3],[-.45,5],[-.6,7],[-.75,7.6],[-.85,7],[-1,5],[-1.2,3]];
const b2UpCore=[[.25,1.3],[.9,1.3],[.85,3],[.78,5],[.8,7],[.92,8.5],[.95,10],[.9,9.5],[.78,8],[.65,7],[.5,5],[.38,3]];
const b2DownCloud=[[-3,1.3],[-1.5,1.3],[-1,4.5],[-.85,7.5],[-1.3,8],[-2,6.3],[-2.4,3.5]];
const b2UpCloud=[[.8,1.3],[1.8,1.3],[1.2,4],[1,7],[1.05,10],[.85,9]];
const b2GrayCore=[[-3,1.3],[-.13,1.3],[0,0],[.13,1.3],[2.8,1.3],[2.4,.3],[1.5,.08],[.5,0],[0,0],[-.5,0],[-1.5,.08],[-2.4,.3]];
const b2GrayCloud=[[-3.6,1.3],[3.4,1.3],[3.2,.2],[-3.4,.2]];
const b2Genes=['UBE2C','MBTPS2','IDH1'];
const b2GeneX=[-1.32,-.79,-.35];
const b2GeneY=[11.9,7.56,3.93];
const b2XTicks=[-5,-2.5,0,2.5,5];
const b2XLabels=['-5','-2.5','0','2.5','5'];
const b2YTicks=[0,5,10,15];
const b2YLabels=['0','5','10','15'];
const b2Cuts=[-.28,.25];
const b2PCut=1.3;
volcano('v-b2',[2724,91,3334,664],{x0:3030,k:58.2},{y0:655,k:31.8},{up:b2Up,down:b2Down,gray:b2Gray,downCore:b2DownCore,upCore:b2UpCore,downCloud:b2DownCloud,upCloud:b2UpCloud,grayCore:b2GrayCore,grayCloud:b2GrayCloud,genes:b2Genes,geneX:b2GeneX,geneY:b2GeneY,xTicks:b2XTicks,xTickLabels:b2XLabels,yTicks:b2YTicks,yTickLabels:b2YLabels,cuts:b2Cuts,pCut:b2PCut,showX:true,xLabelY:696});
</script>

<script>
const cCategories=['Pathways in cancer','Coronavirus disease − COVID−19','Ribosome','Cellular senescence','Cell cycle','Small cell lung cancer'];
const cRatios=[.0805,.0395,.032,.0278,.027,.018];
const cCounts=[195,110,90,75,80,35];
const cPvals=[2,2.3,6.2,2.4,5.5,2.1];
const cTicks=[.02,.04,.06,.08];
const cTickLabels=['0.02','0.04','0.06','0.08'];
const cBarTicks=[6,5,4,3,2];
const cBarLabels=['6','5','4','3','2'];
const cLegendCounts=[50,100,150,200];
const cLegendLabels=['50','100','150','200'];
dotPlot('dp-c',{frame:[385,834,732,1270],x:v=>411+(v-.02)*5035,y0:875,dy:70.8,cats:cCategories,ratios:cRatios,counts:cCounts,pvals:cPvals,ticks:cTicks,tickLabels:cTickLabels,tickY:1298,tickSize:24,labelX:375,labelSize:22.9,font:'se',r:c=>.99*Math.sqrt(c),color:p=>ramp(HOTCOLD,(p-2)/4.2),cb:[765,798],cbY:v=>1045-(v-2)*39,cbTicks:cBarTicks,cbLabels:cBarLabels,cbTextX:808,cbSize:22,legCounts:cLegendCounts,legLabels:cLegendLabels,legX:780,legY0:1143,legDy:33.4});
</script>

<script>
const dCategories=['Metabolic pathways','Pathways of neurodegeneration − multiple diseases','Alzheimer disease','Amyotrophic lateral sclerosis','Huntington disease','Parkinson disease','Chemical carcinogenesis − reactive oxygen species','Prion disease','Thermogenesis','Diabetic cardiomyopathy','Coronavirus disease − COVID−19','Ribosome','Protein processing in endoplasmic reticulum','Oxidative phosphorylation','Non−alcoholic fatty liver disease','Hepatocellular carcinoma','Cellular senescence','Cell cycle','Insulin signaling pathway','Circadian rhythm'];
const dRatios=[.233,.0865,.07,.069,.0606,.056,.055,.054,.054,.0476,.047,.039,.038,.036,.033,.033,.033,.0287,.0287,.012];
const dCounts=[400,170,140,135,120,110,108,105,105,95,92,78,75,70,65,65,65,58,55,25];
const dPvals=[5.8,5.5,4.5,5,6,6.5,12,5,9,9.3,5,9.3,5.5,9,4.8,3.8,3.8,4.5,3.5,5.5];
const dTicks=[.05,.1,.15,.2];
const dTickLabels=['0.05','0.10','0.15','0.20'];
const dBarTicks=[10,7.5,5];
const dBarLabels=['10.0','7.5','5.0'];
const dLegendCounts=[100,200,300,400];
const dLegendLabels=['100','200','300','400'];
dotPlot('dp-d',{frame:[1408,829,1650,1497],x:v=>1405+v*1000,y0:849.7,dy:33.05,cats:dCategories,ratios:dRatios,counts:dCounts,pvals:dPvals,ticks:dTicks,tickLabels:dTickLabels,tickY:1526,tickSize:21,labelX:1398,labelSize:21.5,font:'se',r:c=>3+.45*Math.sqrt(c),color:p=>ramp(HOTCOLD,(p-3)/9.2),cb:[1679,1709],cbY:v=>1126-(v-5)*17.6,cbTicks:dBarTicks,cbLabels:dBarLabels,cbTextX:1720,cbSize:20,legCounts:dLegendCounts,legLabels:dLegendLabels,legX:1694,legY0:1247,legDy:31.3});
</script>

<script>
const fCols=[2573,2729,2886,3042,3198];
const h460Ids=['9','10','15','4','0','19','13','6','12','7','17','14','2','8','3','5','18','11','1','16'];
const h460Genes=['417','285','272','147','144','144','128','124','90','77','52','44','25','16','11','11','6','5','4','0'];
const h460Trends=[[0,0,0,-1],[0,0,0,1],[0,1,0,1],[0,-1,0,-1],[0,-.33,-.67,-1],[0,.33,.67,1],[0,1,0,-1],[0,-1,0,1],[0,0,1,1],[0,0,-1,-1],[0,1,1,1],[0,1,0,0],[0,-1,-1,-1],[0,0,-1,0],[0,-1,-1,0],[0,-1,0,0],[0,.5,1,.5],[0,0,1,0],[0,-.5,-1,-.5],[0,1,1,0]];
const h460Fills=['#ff9999','#8cd48c','#9999cc','#fff','#ff9999','#8cd48c','#f5f099','#ffcc99','#fff','#fff','#fff','#fff','#fff','#fff','#fff','#fff','#fff','#fff','#fff','#fff'];
profiles('prof-h460',fCols,[873,1030,1187.5,1345.5],130,131,h460Ids,h460Genes,h460Trends,h460Fills);
const mcf7Ids=['9','10','0','8','12','19','11','7','3','18','6','15','13','16','5','4','17','14','1','2'];
const mcf7Genes=['715','196','172','87','59','56','55','52','50','40','36','19','12','12','7','5','5','3','1','0'];
const mcf7Trends=[[0,0,0,-1],[0,0,0,1],[0,-.33,-.67,-1],[0,0,-1,0],[0,0,1,1],[0,.33,.67,1],[0,0,1,0],[0,0,-1,-1],[0,-1,-1,0],[0,.5,1,.5],[0,-1,0,1],[0,1,0,1],[0,1,0,-1],[0,1,1,0],[0,-1,0,0],[0,-1,0,-1],[0,1,1,1],[0,1,0,0],[0,-.5,-1,-.5],[0,-1,-1,-1]];
const mcf7Fills=['#ff9999','#8cd48c','#ff9999','#fff','#9999cc','#8cd48c','#fff','#999999','#fff','#fff','#fff','#fff','#fff','#fff','#fff','#fff','#fff','#fff','#fff','#fff'];
profiles('prof-mcf7',fCols,[1592,1750,1907,2065.5],130,131,mcf7Ids,mcf7Genes,mcf7Trends,mcf7Fills);
</script>

<script>
const gCategories=['intracellular anatomical structure','protein binding','intracellular organelle','membrane- bounded organelle','intracellular membrane- bounded organelle','cytoplasm','organonitrogen compound metabolic process','organelle lumen','membrane- enclosed lumen','intracellular organelle lumen','cytosol','biosynthetic process','organic substance biosynthetic process','cellular biosynthetic process','protein metabolic process','cellular nitrogen compound biosynthetic process','nucleoplasm','cell cycle','cytoplasmic translation','cytosolic ribosome'];
const gRatios=[.92,.873,.835,.826,.782,.773,.447,.434,.434,.434,.408,.4,.398,.392,.377,.337,.327,.165,.04,.03];
const gCounts=[1650,1570,1500,1490,1410,1390,805,780,780,780,735,720,715,705,680,605,590,300,70,55];
const gPvals=[45,58,30,30,26,88,50,40,40,42,62,35,36,34,30,30,60,35,38,35];
const gClasses=['CC','MF','CC','CC','CC','CC','BP','CC','CC','CC','CC','BP','BP','BP','BP','BP','CC','BP','BP','CC'];
const gTicks=[0,.25,.5,.75];
const gTickLabels=['0.00','0.25','0.50','0.75'];
const gBarTicks=[80,70,60,50,40,30];
const gBarLabels=['80','70','60','50','40','30'];
const gLegendCounts=[500,1000,1500];
const gLegendLabels=['500','1000','1500'];
dotPlot('dp-g',{frame:[489,1425,800,2043],x:v=>492.5+v*319,y0:1443,dy:30.68,cats:gCategories,ratios:gRatios,counts:gCounts,pvals:gPvals,shapes:gClasses,ticks:gTicks,tickLabels:gTickLabels,tickY:2071,tickSize:21,labelX:480,labelSize:20,font:'sa',r:c=>.3*Math.sqrt(c),color:p=>ramp(['#0a4ea8','#4a3f9e','#7a3a9e','#c94fa0'],(p-25)/65),cb:[828,857],cbY:v=>1657-(v-30)*2.24,cbTicks:gBarTicks,cbLabels:gBarLabels,cbTextX:866,cbSize:17,legCounts:gLegendCounts,legLabels:gLegendLabels,legX:843,legY0:1902,legDy:29});
</script>

<script>
const hCategories=['Coronavirus disease − COVID−19','Ribosome','Protein processing in endoplasmic reticulum','Cell cycle','Circadian rhythm'];
const hRatios=[.0718,.0657,.0414,.0414,.0138];
const hCounts=[62,57,36,36,12];
const hPvals=[10,17,3.2,6.5,2.5];
const hTicks=[.02,.04,.06];
const hTickLabels=['0.02','0.04','0.06'];
const hBarTicks=[16,12,8,4];
const hBarLabels=['16','12','8','4'];
const hLegendCounts=[20,30,40,50,60];
const hLegendLabels=['20','30','40','50','60'];
dotPlot('dp-h',{frame:[468,2194,782,2621],x:v=>512+(v-.02)*4950,y0:2243,dy:82.4,cats:hCategories,ratios:hRatios,counts:hCounts,pvals:hPvals,ticks:hTicks,tickLabels:hTickLabels,tickY:2648,tickSize:23,labelX:457,labelSize:22.6,font:'se',r:c=>1.7*Math.sqrt(c),color:p=>ramp(HOTCOLD,1-(p-2)/15.5),cb:[813,845],cbY:v=>2368-(v-4)*10.67,cbTicks:hBarTicks,cbLabels:hBarLabels,cbTextX:857,cbSize:20,legCounts:hLegendCounts,legLabels:hLegendLabels,legX:829,legY0:2480,legDy:32.8});
</script>

<script>
const heatGenes=['ERLEC1','ANAPC2','MBTPS2','E2F3','NSFL1C','BCAP31','SEC31B','PRKDC','CDC16','WFS1','DNAJC5','CAPN1','UFD1','CRYAB','GADD45B','SSR3'];
const heatSamples=['Lv-NC+si-NC_H460','Lv-NC+si-PLK1_H460','Lv-UBE2C+si-NC_H460','Lv-UBE2C+si-PLK1_H460','Lv-NC+si-NC_MCF7','Lv-NC+si-PLK1_MCF7','Lv-UBE2C+si-NC_MCF7','Lv-UBE2C+si-PLK1_MCF7'];
const heatValues=[
[.7,.75,.65,1.75,-.8,-1,-.9,-.25],
[1.2,1.45,.6,-.9,.55,.1,-.45,-1.75],
[1.3,.85,.5,-.95,.55,.8,-.6,-1.7],
[1.4,1.5,.95,-.7,-.1,-.4,-.2,-1.65],
[1.75,1.35,.8,0,-.35,-.5,-.85,-1.35],
[1.5,1.4,1,.3,-.5,-.55,-.75,-1.45],
[.1,-.35,.3,-1.1,.15,.65,1.75,-1.4],
[-.5,-.45,-.3,-1.4,.7,1.3,1.75,-.6],
[-.4,-.3,-.65,-1.2,1.25,1.3,1.65,-.7],
[-.55,-.6,-.7,-1.15,1.4,1.4,1.5,-.35],
[.45,-.45,-.7,-1,1.5,1.7,.15,-1.1],
[.9,.2,-.55,-1.7,1.1,1.35,.4,-1.1],
[.5,.35,-.5,-1.1,.8,.8,1.35,-1.7],
[-.75,-.8,-.55,1.55,-.45,-.05,-.6,1.75],
[-1.1,-1.15,-1,.45,.35,.15,.55,1.75],
[-1,-.95,-.9,-.6,.8,.65,.85,1.75]];
const heatPathways=['#93c5cb','#b06bb0','#9bd274','#b06bb0','#9bd274','#9bd274','#9bd274','#b06bb0','#b06bb0','#9bd274','#9bd274','#9bd274','#9bd274','#93c5cb','#ee8a7a','#93c5cb'];
(function(){
  const g=document.getElementById('heat'),L=1217,T=1680,cw=66.15,rh=39.3;
  const col=v=>v<0?ramp(['#ffffff','#ff0000'],-v/1.75):ramp(['#ffffff','#c4c4e2','#8a8fc8','#4d5fae','#0047a5'],v/1.75);
  heatValues.forEach((row,r)=>{
    mk(g,'rect',{x:1185,y:T+r*rh,width:24,height:rh+.5,fill:heatPathways[r]},'pathway-annotation-cell');
    row.forEach((v,c)=>{
      mk(g,'rect',{x:L+c*cw,y:T+r*rh,width:cw+.5,height:rh+.5,fill:col(v)},'heatmap-cell');
    });
    txt(g,1755,T+r*rh+rh/2+10,heatGenes[r],'se',30,'#111','gene-label');
  });
  heatSamples.forEach((s,c)=>{
    const x=L+(c+.5)*cw-10;
    txt(g,x,2316,s,'se',30.3,'#111','sample-label','rotate(90 '+x+' 2316)');
  });
})();
</script>

<script>
const j1Genes=['S2P','S1P','ATF6'];
const j1NcNc=[1.045,1.035,1.055];
const j1NcPlk=[.37,.71,.885];
const j1UbeNc=[.47,.6,1.25];
const j1UbePlk=[.085,.235,.44];
const j1ErrNcNc=[1.27,1.26,1.315];
const j1ErrNcPlk=[.405,.875,1];
const j1ErrUbeNc=[.615,.695,1.41];
const j1ErrUbePlk=[.113,.315,.52];
const j1Stars=['**','*','*'];
const j1SigLevel=[1.66,1.66,1.66];
const j1YTicks=[0,.5,1,1.5,2];
const j1YLabels=['0.0','0.5','1.0','1.5','2.0'];
barChart('bar-h460',{y0:2649,k:164.7,axisX:2026,tickL:2012,axisEnd:2337,genes:j1Genes,groupX:[2078,2181.5,2285.6],step:20.6,barW:17,series:[j1NcNc,j1NcPlk,j1UbeNc,j1UbePlk],errTop:[j1ErrNcNc,j1ErrNcPlk,j1ErrUbeNc,j1ErrUbePlk],errLow:null,colors:['#7f7b7b','#7b86c4','#ae8bc2','#ff8a8a'],yTicks:j1YTicks,yTickLabels:j1YLabels,tickCls:'se b e',sigL:[2039,2144,2254],sigR:[2111,2215,2327],sigV:j1SigLevel,stars:j1Stars});
</script>

<script>
const j2Genes=['S2P','S1P','ATF6'];
const j2NcNc=[.998,.994,.998];
const j2NcPlk=[.812,1.208,.812];
const j2UbeNc=[.375,.555,.265];
const j2UbePlk=[.335,.176,.158];
const j2TopNcNc=[1.076,1.026,1.098];
const j2TopNcPlk=[1.036,1.525,1.014];
const j2TopUbeNc=[.48,.782,.3];
const j2TopUbePlk=[.37,.194,.222];
const j2LowNcNc=[.924,.962,.908];
const j2LowNcPlk=[.603,.9,.625];
const j2LowUbeNc=[.283,.333,.23];
const j2LowUbePlk=[.305,.158,.1];
const j2Stars=['*','**','**'];
const j2SigLevel=[1.75,1.755,1.75];
const j2YTicks=[0,.5,1,1.5,2];
const j2YLabels=['0.0','0.5','1.0','1.5','2.0'];
barChart('bar-mcf7',{y0:2645,k:167,axisX:2781,tickL:2766.5,axisEnd:3114,genes:j2Genes,groupX:[2836,2947,3058.5],step:22,barW:18,series:[j2NcNc,j2NcPlk,j2UbeNc,j2UbePlk],errTop:[j2TopNcNc,j2TopNcPlk,j2TopUbeNc,j2TopUbePlk],errLow:[j2LowNcNc,j2LowNcPlk,j2LowUbeNc,j2LowUbePlk],colors:['#7f7b7b','#8f97cf','#a67fc0','#ff8a8a'],yTicks:j2YTicks,yTickLabels:j2YLabels,tickCls:'sa b e',sigL:[2796,2914,3033],sigR:[2874,2997,3113],sigV:j2SigLevel,stars:j2Stars});
</script>
</body>
</html>
